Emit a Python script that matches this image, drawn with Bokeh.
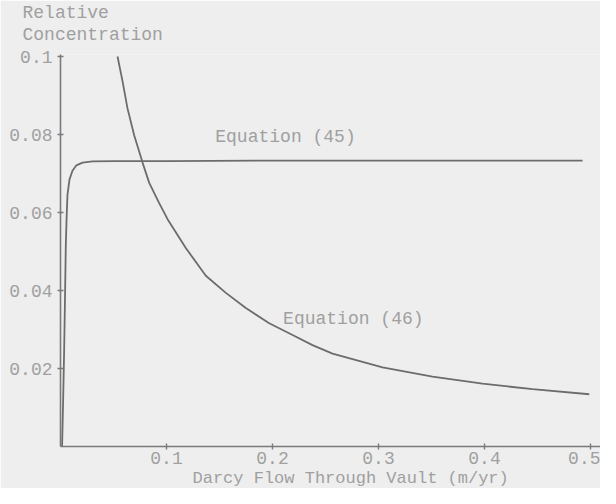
from bokeh.plotting import figure
from bokeh.models import Range1d, FixedTicker, Label, Title
from bokeh.embed import file_html
from bokeh.resources import INLINE

# ---- data ----
eq45_x = [0.0015, 0.0025, 0.0035, 0.0043, 0.0050, 0.0058, 0.0066, 0.0085, 0.0113,
          0.0150, 0.0208, 0.0300, 0.0500, 0.1000, 0.2000, 0.3000, 0.4000, 0.4925]
eq45_y = [0.0, 0.0120, 0.0255, 0.0390, 0.0516, 0.0590, 0.0646, 0.0685, 0.0707,
          0.0721, 0.0728, 0.0731, 0.0732, 0.0732, 0.0733, 0.0733, 0.0733, 0.0733]

eq46_x = [0.0538, 0.0585, 0.0632, 0.0695, 0.0774, 0.0837, 0.0931, 0.1010, 0.1182,
          0.1371, 0.1560, 0.1748, 0.1969, 0.2189, 0.2377, 0.2566, 0.3038, 0.3509,
          0.3981, 0.4453, 0.4988]
eq46_y = [0.1000, 0.0937, 0.0867, 0.0798, 0.0728, 0.0676, 0.0624, 0.0583, 0.0509,
          0.0438, 0.0394, 0.0355, 0.0316, 0.0286, 0.0260, 0.0238, 0.0203, 0.0179,
          0.0161, 0.0147, 0.0134]

x_ticks = [0.1, 0.2, 0.3, 0.4, 0.5]
x_tick_labels = ["0.1", "0.2", "0.3", "0.4", "0.5"]
y_ticks = [0.02, 0.04, 0.06, 0.08, 0.1]
y_tick_labels = ["0.02", "0.04", "0.06", "0.08", "0.1"]

label_45 = "Equation (45)"
label_46 = "Equation (46)"
y_title = ["Relative", "Concentration"]
x_title = "Darcy Flow Through Vault (m/yr)"

# ---- styling ----
FONT = "Liberation Mono"
BG = "#eeeeee"
LINE = "#6c6c6c"
AXIS = "#7a7a7a"
TEXT = "#a0a0a0"

p = figure(width=600, height=488, output_backend="svg", toolbar_location=None,
           title=None,
           x_range=Range1d(0, 0.5094), y_range=Range1d(0, 0.10052),
           min_border_left=60, min_border_right=0, min_border_top=10,
           min_border_bottom=4)
p.background_fill_color = BG
p.border_fill_color = BG
p.outline_line_color = None
p.grid.visible = False

p.line(eq45_x, eq45_y, line_color=LINE, line_width=1.8)
p.line(eq46_x, eq46_y, line_color=LINE, line_width=1.8)

for ax in (p.xaxis[0], p.yaxis[0]):
    ax.axis_line_color = AXIS
    ax.axis_line_width = 1.6
    ax.major_tick_line_color = AXIS
    ax.major_tick_line_width = 1.4
    ax.major_tick_in = 3
    ax.major_tick_out = 3
    ax.minor_tick_line_color = None
    ax.major_label_text_font = FONT
    ax.major_label_text_font_size = "18px"
    ax.major_label_text_color = TEXT

p.xaxis.ticker = FixedTicker(ticks=x_ticks)
p.xaxis.major_label_overrides = dict(zip(x_ticks, x_tick_labels))
p.xaxis.major_label_standoff = 2
p.yaxis.ticker = FixedTicker(ticks=y_ticks)
p.yaxis.major_label_overrides = dict(zip(y_ticks, y_tick_labels))
p.yaxis.major_label_standoff = 5


def add_label(x, y, text):
    p.add_layout(Label(x=x, y=y, text=text, text_font=FONT, text_font_size="18px",
                       text_color=TEXT, text_align="left", text_baseline="middle"))


add_label(0.146, 0.0794, label_45)
add_label(0.210, 0.0328, label_46)


def add_title(text, place, offset, size="18px", standoff=0):
    p.add_layout(Title(text=text, align="left", offset=offset, text_font=FONT,
                       text_font_size=size, text_font_style="normal",
                       text_color=TEXT, standoff=standoff), place)


# "above" titles are stacked outward from the frame: spacer first
add_title(" ", "above", 0, size="7px")
add_title(y_title[1], "above", -38)
add_title(y_title[0], "above", -38)
add_title(x_title, "below", 132, size="17px", standoff=1)

open("out.html", "w").write(file_html(p, INLINE))
